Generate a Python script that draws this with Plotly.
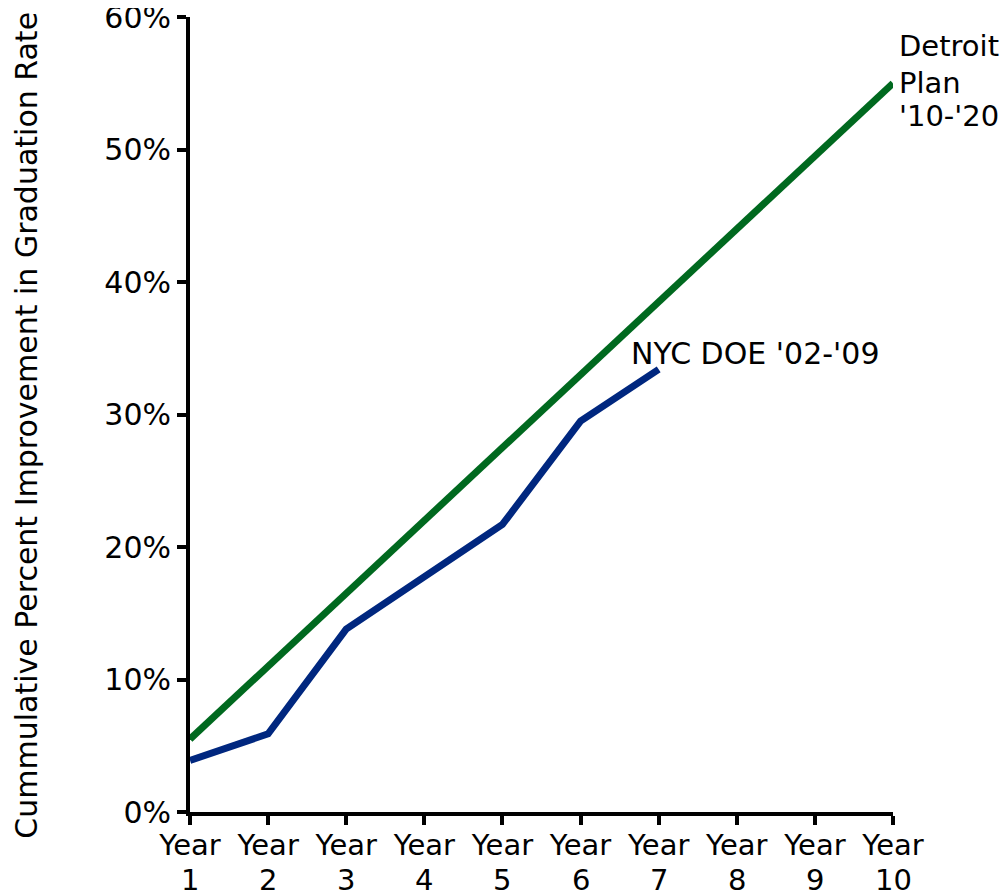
import plotly.graph_objects as go

year_nums = ["1", "2", "3", "4", "5", "6", "7", "8", "9", "10"]
years = ["Year " + n for n in year_nums]
detroit_plan = [0.055, 0.11, 0.165, 0.22, 0.275, 0.33, 0.385, 0.44, 0.495, 0.55]
nyc_doe = [0.039, 0.059, 0.138, 0.177, 0.217, 0.295, 0.334]
y_ticks = [0, 0.1, 0.2, 0.3, 0.4, 0.5, 0.6]
detroit_label = ["Detroit", "Plan", "'10-'20"]
y_title = "Cummulative Percent Improvement in Graduation Rate"

FONT = "DejaVu Sans"

fig = go.Figure()
fig.add_trace(go.Scatter(x=years, y=detroit_plan, mode="lines",
                         line=dict(color="#00691f", width=7), name="Detroit Plan"))
fig.add_trace(go.Scatter(x=years[:len(nyc_doe)], y=nyc_doe, mode="lines",
                         line=dict(color="#00277f", width=7), name="NYC DOE"))

# three separate lines so the spacing matches the original leading
for txt, shift in zip(detroit_label, [37, 0, -33]):
    fig.add_annotation(x=years[9], y=detroit_plan[9], text=txt,
                       showarrow=False, xanchor="left", yanchor="middle", align="left",
                       xshift=4, yshift=shift,
                       font=dict(size=29, color="black", family=FONT))
fig.add_annotation(x=years[6], y=0.346, text="NYC DOE '02-'09",
                   showarrow=False, xanchor="left", yanchor="middle",
                   xshift=-30, font=dict(size=30, color="black", family=FONT))

# second line of the x tick labels (year number), tighter than plotly's <br> leading
for cat, num in zip(years, year_nums):
    fig.add_annotation(x=cat, yref="paper", y=0, text=num, showarrow=False,
                       xanchor="center", yanchor="middle", yshift=-68,
                       font=dict(size=29, color="black", family=FONT))

# y title as annotation: in the original it sits a little below the plot centre
fig.add_annotation(xref="paper", yref="paper", x=-0.232, y=0.487, text=y_title,
                   textangle=-90, showarrow=False, xanchor="center", yanchor="middle",
                   font=dict(size=30, color="black", family=FONT))

# page body has an 8px margin, so the figure is a bit smaller than the window
fig.update_layout(
    width=1000, height=882,
    margin=dict(l=182, r=115, t=9, b=78),
    plot_bgcolor="white", paper_bgcolor="white",
    showlegend=False,
    font=dict(family=FONT, size=29, color="black"),
)
fig.update_xaxes(type="category", range=[0, 9], showgrid=False, zeroline=False,
                 showline=True, linecolor="black", linewidth=4, automargin=False,
                 tickmode="array", tickvals=years, ticktext=["Year"] * len(years),
                 ticks="outside", ticklen=9, tickwidth=4, tickcolor="black",
                 tickangle=0, tickfont=dict(size=29), ticklabelstandoff=-5,
                 ticklabeloverflow="allow")
fig.update_yaxes(range=[0, 0.6], tickvals=y_ticks, tickformat=".0%",
                 showgrid=False, zeroline=False, automargin=False,
                 showline=True, linecolor="black", linewidth=4,
                 ticks="outside", ticklen=9, tickwidth=4, tickcolor="black",
                 tickfont=dict(size=30), ticklabeloverflow="allow")

fig.write_html("out.html")
